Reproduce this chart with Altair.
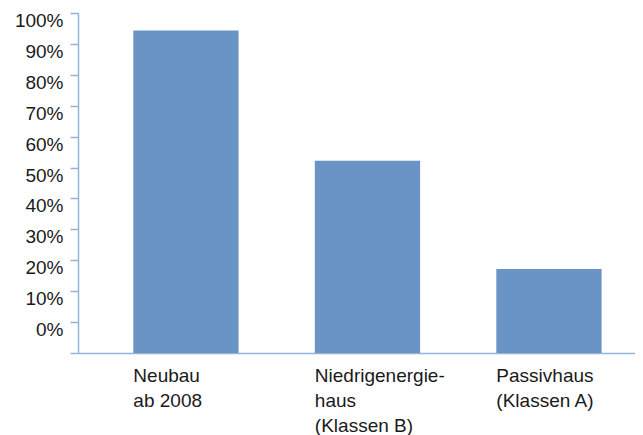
import altair as alt
import pandas as pd

categories = ["Neubau\nab 2008", "Niedrigenergie-\nhaus\n(Klassen B)", "Passivhaus\n(Klassen A)"]
values = [94.3, 52.2, 17.2]
tick_values = [-10, 0, 10, 20, 30, 40, 50, 60, 70, 80, 90, 100]

df = pd.DataFrame({"cat": categories, "val": values})

axis_color = "#95B3D7"
bar_color = "#6A94C6"

chart = alt.Chart(df).mark_bar(color=bar_color).encode(
    x=alt.X(
        "cat:N",
        sort=categories,
        scale=alt.Scale(paddingInner=0.42, paddingOuter=0.2444, align=0.6235),
        axis=alt.Axis(
            title=None,
            labelAngle=0,
            labelAlign="left",
            labelBaseline="top",
            labelOffset=-52.6,
            labelPadding=13,
            labelLineHeight=25,
            labelExpr="split(datum.label, '\\n')",
            ticks=False,
            domainColor=axis_color,
            domainWidth=1.5,
            labelFont="Liberation Sans",
            labelFontSize=19,
            labelColor="#1a1a1a",
        ),
    ),
    y=alt.Y(
        "val:Q",
        scale=alt.Scale(domain=[-10, 100], nice=False, zero=False),
        axis=alt.Axis(
            title=None,
            values=tick_values,
            labelExpr="datum.value < 0 ? '' : datum.value + '%'",
            grid=False,
            tickSize=8,
            tickColor=axis_color,
            tickWidth=1.5,
            domainColor=axis_color,
            domainWidth=1.5,
            labelPadding=7,
            labelOffset=7.5,
            labelBaseline="middle",
            labelFont="Liberation Sans",
            labelFontSize=19,
            labelColor="#1a1a1a",
        ),
    ),
    y2=alt.datum(-10),
).properties(
    width=557,
    height=340,
    autosize=alt.AutoSizeParams(type="none"),
    padding={"left": 70, "top": 5, "right": 0, "bottom": 82},
).configure_view(stroke=None)

chart.save("out.html", embed_options={"renderer": "svg", "actions": False})
